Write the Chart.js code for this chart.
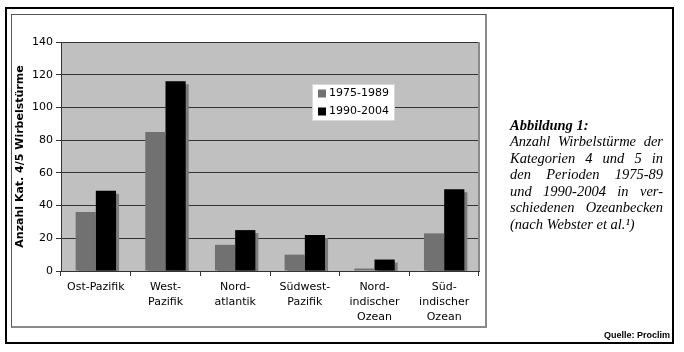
<!DOCTYPE html>
<html><head><meta charset="utf-8">
<script src="https://cdn.jsdelivr.net/npm/chart.js@4.4.1/dist/chart.umd.min.js"></script>
<style>
html,body{margin:0;padding:0;background:#fff;width:684px;height:352px;overflow:hidden;}
#outer{position:absolute;left:5px;top:7px;width:665px;height:333px;border:2px solid #000;}
#inner{position:absolute;left:11px;top:14px;width:473px;height:311px;border-left:1px solid #555;border-top:1px solid #555;border-right:2px solid #8a8a8a;border-bottom:2px solid #8a8a8a;}
#c{position:absolute;left:0;top:0;}
</style></head>
<body>
<div id="outer"></div>
<div id="inner"></div>
<canvas id="c" width="684" height="352"></canvas>
<script>
const categories = [["Ost-Pazifik"],["West-","Pazifik"],["Nord-","atlantik"],["Südwest-","Pazifik"],["Nord-","indischer","Ozean"],["Süd-","indischer","Ozean"]];
const seriesLabels = ["1975-1989","1990-2004"];
const series1975 = [36,85,16,10,1.5,23];
const series1990 = [49,116,25,22,7,50];
const yMin = 0, yMax = 140, yStep = 20;
const yTitle = "Anzahl Kat. 4/5 Wirbelstürme";
const captionLines = [
  {t:"Abbildung 1:", bold:true, j:false},
  {t:"Anzahl Wirbelstürme der", j:true},
  {t:"Kategorien 4 und 5 in", j:true},
  {t:"den Perioden 1975-89", j:true},
  {t:"und 1990-2004 in ver-", j:true},
  {t:"schiedenen Ozeanbecken", j:true},
  {t:"(nach Webster et al.¹)", j:false}
];
const sourceText = "Quelle: Proclim";

const colors = ["#717171","#000000"];
const shadowColor = "#7c7c7c";

const plotBg = {
  id:'plotBg',
  beforeDraw(chart){
    const {ctx, chartArea:a} = chart;
    ctx.save(); ctx.fillStyle = '#c0c0c0';
    ctx.fillRect(a.left, a.top, a.right-a.left, a.bottom-a.top);
    ctx.restore();
  },
  beforeDatasetsDraw(chart){
    const {ctx, chartArea:a} = chart;
    ctx.save();
    ctx.beginPath(); ctx.rect(a.left, a.top, a.right-a.left, a.bottom-a.top); ctx.clip();
    ctx.fillStyle = shadowColor;
    chart.data.datasets.forEach((ds,i)=>{
      chart.getDatasetMeta(i).data.forEach(el=>{
        const w = el.width;
        ctx.fillRect(el.x - w/2 + 3, el.y + 3, w, el.base - el.y);
      });
    });
    ctx.restore();
  },
  afterDatasetsDraw(chart){
    const {ctx, chartArea:a} = chart;
    ctx.save();
    ctx.strokeStyle = '#8a8a8a'; ctx.lineWidth = 2;
    ctx.beginPath(); ctx.moveTo(a.right, a.top); ctx.lineTo(a.right, a.bottom); ctx.stroke();
    ctx.restore();
  },
  afterDraw(chart){
    const ctx = chart.ctx;
    ctx.save();
    // legend
    const lx = 312, ly = 84, lw = 83, lh = 37;
    ctx.fillStyle = '#fff'; ctx.fillRect(lx, ly, lw, lh);
    ctx.strokeStyle = '#d8d8d8'; ctx.lineWidth = 1; ctx.strokeRect(lx+0.5, ly+0.5, lw-1, lh-1);
    ctx.font = '11px "DejaVu Sans"'; ctx.textBaseline = 'middle'; ctx.textAlign = 'left';
    chart.data.datasets.forEach((ds,i)=>{
      const cy = ly + 9.5 + i*18;
      ctx.fillStyle = ds.backgroundColor;
      ctx.fillRect(lx+6, cy-4, 8, 8);
      ctx.fillStyle = '#000';
      ctx.fillText(ds.label, lx+17, cy);
    });
    // caption
    const cx = 510, cw = 153;
    ctx.fillStyle = '#000'; ctx.textBaseline = 'middle';
    captionLines.forEach((ln,i)=>{
      const y = 126 + i*16.5;
      ctx.font = (ln.bold ? 'italic bold ' : 'italic ') + '14.5px "Liberation Serif"';
      if (ln.j) {
        const words = ln.t.split(' ');
        const ws = words.map(w=>ctx.measureText(w).width);
        const total = ws.reduce((s,v)=>s+v,0);
        const gap = (cw - total)/(words.length-1);
        let x = cx;
        words.forEach((w,k)=>{ ctx.fillText(w, x, y); x += ws[k] + gap; });
      } else {
        ctx.fillText(ln.t, cx, y);
      }
    });
    ctx.font = 'bold 9px "Liberation Sans"'; ctx.textAlign = 'right';
    ctx.fillText(sourceText, 670, 336);
    ctx.restore();
  }
};

new Chart(document.getElementById('c'), {
  type:'bar',
  data:{
    labels: categories,
    datasets:[
      {label:seriesLabels[0], data:series1975, backgroundColor:colors[0], categoryPercentage:0.58, barPercentage:1},
      {label:seriesLabels[1], data:series1990, backgroundColor:colors[1], categoryPercentage:0.58, barPercentage:1}
    ]
  },
  options:{
    responsive:false, animation:false, devicePixelRatio:1,
    layout:{padding:{left:12, top:42, right:205, bottom:31}},
    plugins:{legend:{display:false}, tooltip:{enabled:false}, title:{display:false}},
    scales:{
      x:{
        grid:{offset:true, drawOnChartArea:false, tickLength:5, color:'#333'},
        border:{color:'#333'},
        ticks:{color:'#000', font:{family:'DejaVu Sans', size:11, lineHeight:1.4}, padding:3, maxRotation:0, autoSkip:false},
        afterFit(s){ s.height = 50; }
      },
      y:{
        min:yMin, max:yMax,
        ticks:{stepSize:yStep, color:'#000', font:{family:'DejaVu Sans', size:11}, padding:3},
        grid:{color:'#333', tickLength:5},
        border:{color:'#333'},
        title:{display:true, text:yTitle, color:'#000', font:{family:'DejaVu Sans', weight:'bold', size:11}, padding:{top:2,bottom:0}},
        afterFit(s){ s.width = 49; }
      }
    }
  },
  plugins:[plotBg]
});
</script>
</body></html>
